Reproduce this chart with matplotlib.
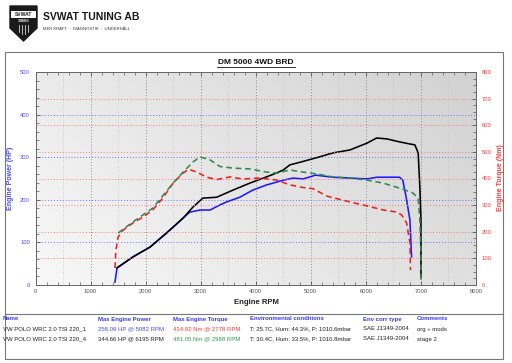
import matplotlib
matplotlib.use("Agg")
import matplotlib.pyplot as plt
import numpy as np
from matplotlib.patches import Polygon, Rectangle
from matplotlib.lines import Line2D
from matplotlib.ticker import MultipleLocator

plt.rcParams['font.family'] = ['Liberation Sans', 'DejaVu Sans']

# ---- data ----
rpm_p1 = [1443, 1480, 1770, 2080, 2380, 2680, 2800, 2990, 3170, 3350, 3470, 3710, 3950, 4200,
          4500, 4680, 4860, 5040, 5082, 5400, 5710, 6020, 6200, 6430, 6610, 6670, 6730, 6800, 6830]
hp_p1 = [7, 40, 66, 89, 122, 157, 171, 176, 176, 188, 195, 206, 223, 235,
         246, 251, 249, 256, 258, 253, 251, 249, 253, 253, 253, 246, 207, 153, 66]

rpm_t1 = [1443, 1460, 1500, 1590, 1770, 1950, 2130, 2310, 2500, 2680, 2778, 2930, 3110, 3290,
          3530, 3770, 4070, 4380, 4620, 4860, 5040, 5290, 5710, 6020, 6310, 6560, 6650, 6740, 6800, 6810]
nm_t1 = [64, 131, 180, 206, 233, 255, 282, 326, 383, 420, 435, 424, 405, 396,
         406, 398, 402, 394, 376, 366, 362, 334, 312, 297, 282, 274, 263, 233, 158, 56]

rpm_p2 = [1480, 1770, 2080, 2380, 2680, 2860, 3040, 3290, 3590, 3890, 4200, 4380, 4500, 4620,
          4800, 5110, 5400, 5710, 6020, 6195, 6380, 6610, 6800, 6890, 6950, 6980, 7000, 7000]
hp_p2 = [40, 66, 89, 122, 157, 183, 204, 206, 223, 239, 254, 263, 270, 282,
         288, 299, 310, 317, 333, 345, 343, 336, 331, 329, 310, 230, 153, 19]

rpm_t2 = [1500, 1770, 2130, 2500, 2680, 2860, 2988, 3170, 3350, 3590, 3890, 4200, 4380, 4620,
          4860, 5110, 5400, 5710, 6020, 6310, 6610, 6850, 6950, 6980, 7000, 7000]
nm_t2 = [195, 237, 289, 383, 424, 462, 481, 470, 445, 439, 436, 424, 420, 432,
         424, 417, 406, 402, 394, 383, 364, 346, 327, 244, 120, 19]

x_ticks = [0, 1000, 2000, 3000, 4000, 5000, 6000, 7000, 8000]
hp_ticks = [0, 100, 200, 300, 400, 500]
nm_ticks = [0, 100, 200, 300, 400, 500, 600, 700, 800]

table_headers = ["Name", "Max Engine Power", "Max Engine Torque", "Environmental conditions",
                 "Env corr type", "Comments"]
row1 = ["VW POLO WRC 2.0 TSI 220_1", "258.09 HP @ 5082 RPM", "434.92 Nm @ 2778 RPM",
        "T: 25.7C, Hum: 44.3%, P: 1010.6mbar", "SAE J1349-2004", "org + mods"]
row2 = ["VW POLO WRC 2.0 TSI 220_4", "344.66 HP @ 6195 RPM", "481.05 Nm @ 2988 RPM",
        "T: 30.4C, Hum: 33.5%, P: 1010.8mbar", "SAE J1349-2004", "stage 2"]

# ---- figure ----
W, H = 512, 363
fig = plt.figure(figsize=(W / 100, H / 100), dpi=100)
fig.patch.set_facecolor('white')

def fx(px):
    return px / W

def fy(py):
    return 1 - py / H

BLUE = '#1a1aff'
BLUE_TXT = '#4a4aff'
RED = '#e8221e'
RED_TXT = '#ff3a3a'
GREEN = '#2e8b4a'
GREY = '#555555'

# axes
x0, x1, y0, y1 = 35.5, 476, 72, 285
ax = fig.add_axes([fx(x0), fy(y1), (x1 - x0) / W, (y1 - y0) / H])
ax.set_xlim(0, 8000)
ax.set_ylim(0, 500)

# gradient background
gx, gy = np.meshgrid(np.linspace(0, 1, 200), np.linspace(0, 1, 200))
grad = 0.97 - 0.15 * (0.65 * gx + 0.35 * gy)
ax.imshow(grad, extent=[0, 8000, 500, 0], aspect='auto', cmap='gray', vmin=0, vmax=1,
          zorder=0, origin='upper')
ax.set_xlim(0, 8000)
ax.set_ylim(0, 500)

# grids
for v in np.arange(500, 8000, 500):
    if v % 1000 == 0:
        ax.axvline(v, color='#909090', lw=0.7, ls=(0, (1, 2)), zorder=1)
    else:
        ax.axvline(v, color='#c4c4c4', lw=0.6, ls=(0, (1, 2)), zorder=1)
for v in hp_ticks[1:-1]:
    ax.axhline(v, color='#7070ff', lw=0.7, ls=(0, (1, 2)), zorder=1)

ax2 = ax.twinx()
ax2.set_ylim(0, 800)
for v in nm_ticks[1:-1]:
    ax2.axhline(v, color='#ff7a7a', lw=0.7, ls=(0, (1, 2)), zorder=1)

# curves
ax.plot(rpm_p1, hp_p1, color=BLUE, lw=1.15, zorder=5)
ax.plot(rpm_p2, hp_p2, color='black', lw=1.15, zorder=5)
ax2.plot(rpm_t1, nm_t1, color=RED, lw=1.15, ls=(0, (3.6, 2.3)), zorder=5)
ax2.plot(rpm_t2, nm_t2, color=GREEN, lw=1.15, ls=(0, (3.6, 2.3)), zorder=5)

# ticks
ax.set_xticks(x_ticks)
ax.set_xticklabels([str(v) for v in x_ticks])
ax.xaxis.set_minor_locator(MultipleLocator(200))
ax.set_yticks(hp_ticks)
ax.yaxis.set_minor_locator(MultipleLocator(20))
ax2.set_yticks(nm_ticks)
ax2.yaxis.set_minor_locator(MultipleLocator(25))

ax.tick_params(axis='x', which='both', direction='in', top=True, labelsize=4.2,
               colors=GREY, labelcolor='#555555', pad=3)
ax.tick_params(axis='x', which='major', length=3, width=0.6)
ax.tick_params(axis='x', which='minor', length=2, width=0.5)
ax.tick_params(axis='y', which='both', direction='in', labelsize=4.2, colors=GREY,
               labelcolor=BLUE_TXT, pad=4)
ax.tick_params(axis='y', which='major', length=3, width=0.6)
ax.tick_params(axis='y', which='minor', length=2, width=0.5)
ax2.tick_params(axis='y', which='both', direction='in', labelsize=4.2, colors=GREY,
                labelcolor=RED_TXT, pad=4)
ax2.tick_params(axis='y', which='major', length=3, width=0.6)
ax2.tick_params(axis='y', which='minor', length=2, width=0.5)

for a in (ax, ax2):
    for s in a.spines.values():
        s.set_color('#666666')
        s.set_linewidth(0.6)

# axis labels (figure text)
fig.text(fx(11), fy(178), "Engine Power (HP)", rotation=90, color=BLUE_TXT, fontsize=5,
         fontweight='bold', ha='center', va='center')
fig.text(fx(500), fy(178), "Engine Torque (Nm)", rotation=90, color=RED_TXT, fontsize=5,
         fontweight='bold', ha='center', va='center')
fig.text(fx(256), fy(303), "Engine RPM", color='#222222', fontsize=5.6, fontweight='bold',
         ha='center', va='center')

# title with underline
fig.text(fx(256), fy(62), "DM 5000 4WD BRD", color='#111111', fontsize=6, fontweight='bold',
         ha='center', va='center')
fig.add_artist(Line2D([fx(217), fx(295)], [fy(66.5), fy(66.5)], color='#111111', lw=0.6))

# frame boxes
fig.add_artist(Rectangle((fx(4.5), fy(359)), (503 - 4.5) / W, (359 - 52) / H,
                         fill=False, edgecolor='#777777', lw=0.8))
fig.add_artist(Line2D([fx(4.5), fx(503)], [fy(314), fy(314)], color='#777777', lw=0.8))

# logo
shield = Polygon([[fx(10), fy(6)], [fx(37), fy(6)], [fx(37), fy(28)], [fx(23.5), fy(41)],
                  [fx(10), fy(28)]], closed=True, facecolor='#1a1a1a', edgecolor='#1a1a1a')
fig.add_artist(shield)
fig.add_artist(Rectangle((fx(11), fy(18)), 25 / W, 7 / H, facecolor='white', edgecolor='none'))
fig.text(fx(23.5), fy(14.5), "SVWAT", color='#1a1a1a', fontsize=3.6, fontweight='bold',
         ha='center', va='center')
fig.text(fx(23.5), fy(21.5), "TUNING", color='white', fontsize=2.2, fontweight='bold',
         ha='center', va='center')
for sx in (19, 22, 25, 28):
    fig.add_artist(Line2D([fx(sx), fx(sx)], [fy(25), fy(35 - abs(sx - 23.5) * 0.6)],
                          color='white', lw=0.5))
fig.text(fx(43), fy(17), "SVWAT TUNING AB", color='#1a1a1a', fontsize=7.5, fontweight='bold',
         ha='left', va='center')
fig.text(fx(43), fy(29), "MER KRAFT  ·  DIAGNOSTIK  ·  UNDERHÅLL", color='#333333', fontsize=3,
         ha='left', va='center')

# table
col_x = [3, 98, 173, 250, 363, 417]
for cx, t in zip(col_x, table_headers):
    fig.text(fx(cx), fy(319), t, color='#3a3aee', fontsize=4.3, fontweight='bold',
             ha='left', va='center')
row1_colors = ['#222222', BLUE_TXT, RED_TXT, '#222222', '#222222', '#222222']
row2_colors = ['#222222', '#222222', '#2e9a52', '#222222', '#222222', '#222222']
for cx, t, c in zip(col_x, row1, row1_colors):
    fig.text(fx(cx), fy(329), t, color=c, fontsize=4.3, ha='left', va='center')
for cx, t, c in zip(col_x, row2, row2_colors):
    fig.text(fx(cx), fy(339), t, color=c, fontsize=4.3, ha='left', va='center')

fig.savefig("out.png", dpi=100)
